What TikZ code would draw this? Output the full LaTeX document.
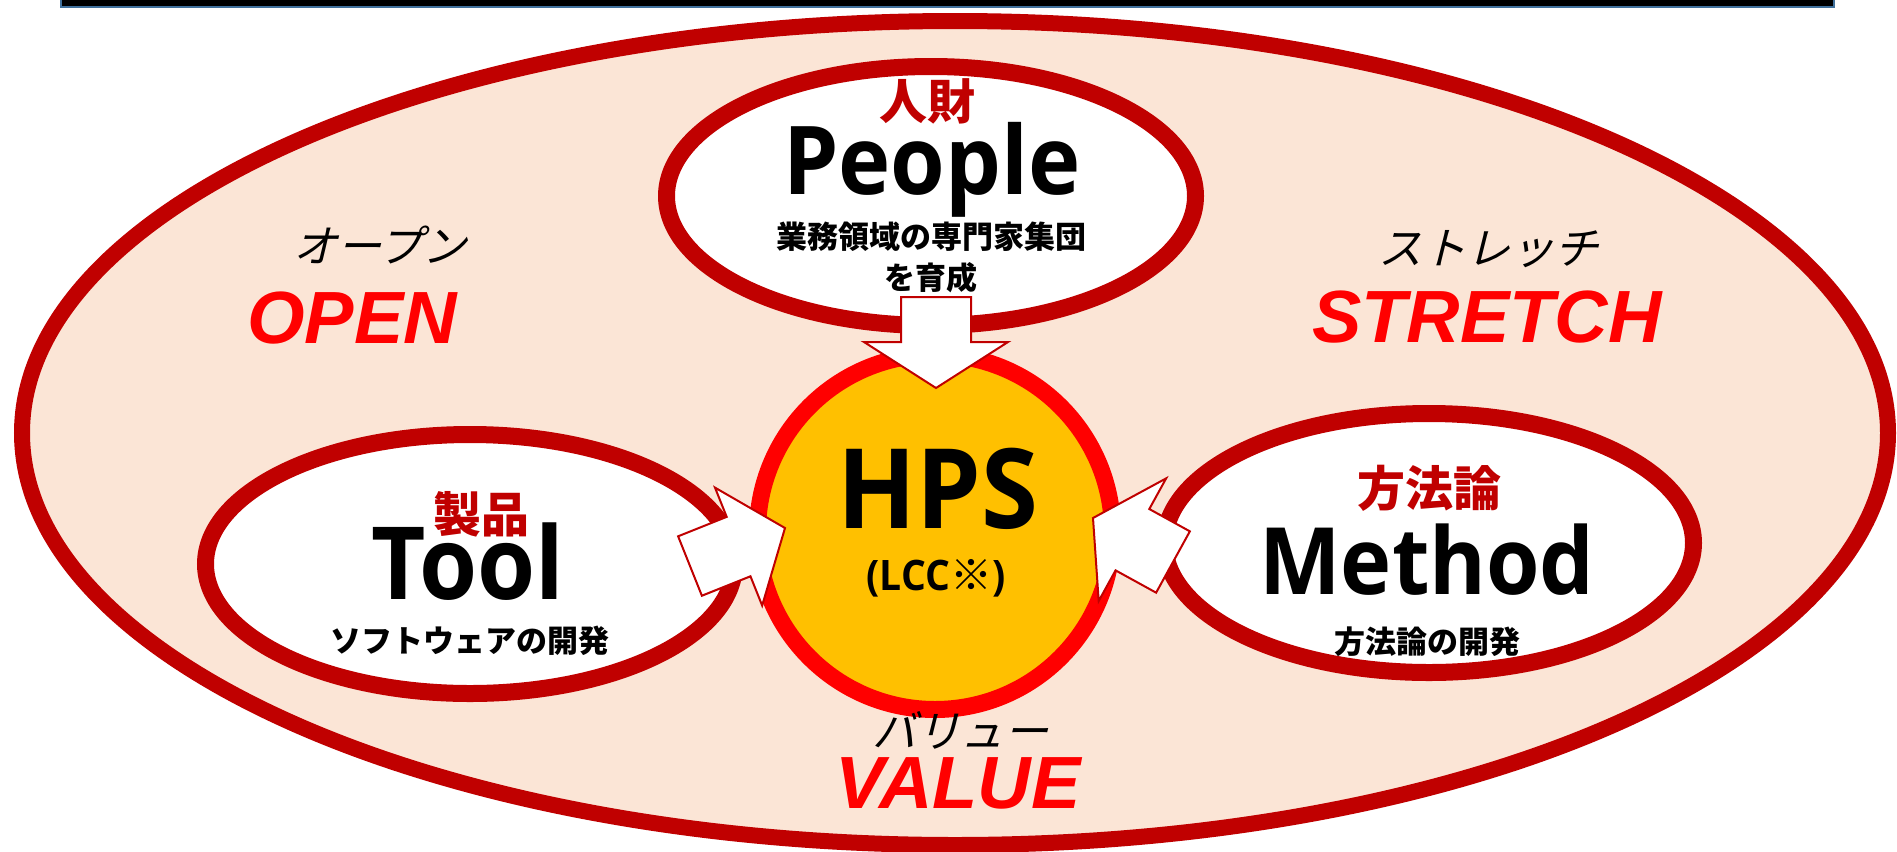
\documentclass[tikz,border=0pt]{standalone}
\usepackage{fontspec}
\usetikzlibrary{shapes.geometric,calc}
\setmainfont{Open Sans}
\newfontfamily\latb[FakeStretch=0.93]{Open Sans}
\newfontfamily\cjk{Noto Sans CJK JP}
\newfontfamily\cjkit[FakeSlant=0.25]{Noto Sans CJK JP}
\newfontfamily\arialf{Liberation Sans}
\definecolor{dred}{HTML}{C00000}
\definecolor{peach}{HTML}{FBE5D6}
\definecolor{gold}{HTML}{FFC000}
\definecolor{barblue}{HTML}{41719C}
\newcommand\blockarr[5]{%
  \coordinate (bj) at ($(#2)!#5!(#1)$);
  \draw[blockarrow] ($(#1)!#3!90:(#2)$) -- ($(bj)!#3!90:(#2)$) -- ($(bj)!#4!90:(#2)$)
    -- (#2) -- ($(bj)!#4!-90:(#2)$) -- ($(bj)!#3!-90:(#2)$) -- ($(#1)!#3!-90:(#2)$) -- cycle;
}
\begin{document}
\begin{tikzpicture}[x=0.5pt,y=-0.5pt,
  outerell/.style={ellipse, draw=dred, fill=peach, line width=8pt, inner sep=0pt},
  areaell/.style={ellipse, draw=dred, fill=white, line width=8.5pt, inner sep=0pt,
    minimum width=264.5pt, minimum height=129.5pt},
  core/.style={circle, draw=red, fill=gold, line width=8.5pt, inner sep=0pt, minimum size=177.5pt},
  blockarrow/.style={draw=dred, fill=white, line width=1pt, line join=miter},
  jphead/.style={text=dred, font=\cjk\bfseries\fontsize{24pt}{28pt}\selectfont, inner sep=0pt},
  jpsub/.style={text=black, font=\cjk\bfseries\fontsize{15.5pt}{18pt}\selectfont, inner sep=0pt},
  jplabel/.style={text=black, font=\cjkit\fontsize{22pt}{26pt}\selectfont, inner sep=0pt},
  enlabel/.style={text=red, font=\arialf\bfseries\itshape\fontsize{37pt}{42pt}\selectfont, inner sep=0pt},
  bigword/.style={text=black, font=\latb\bfseries\fontsize{#1}{#1}\selectfont, inner sep=0pt, anchor=base}]
\useasboundingbox (0,0) rectangle (1897,852);
\fill[white] (0,0) rectangle (1897,852);
% top bar
\draw[barblue, line width=1pt, fill=black] (61,-10) rectangle (1834,7);
% outer ellipse
\node[outerell, minimum width=933pt, minimum height=412pt] (outer) at (955,433) {};
% area ellipses
\node[areaell] (people) at (931,196) {};
\node[areaell] (tool) at (470,564) {};
\node[areaell] (method) at (1429,543) {};
% core
\node[core] (hps) at (935,532) {};
% texts
\node[jphead] (peopleJ) at (927,101) {人財};
\node[bigword=47.5pt] (peopleE) at (932,194) {People};
\node[jpsub] (peopleD1) at (931,237) {業務領域の専門家集団};
\node[jpsub] (peopleD2) at (931,278) {を育成};
\node[jphead] (toolJ) at (481,514) {製品};
\node[bigword=50.5pt] (toolE) at (468,599) {Tool};
\node[jpsub] (toolD) at (470,641) {ソフトウェアの開発};
\node[jphead] (methodJ) at (1429,488) {方法論};
\node[bigword=46.5pt] (methodE) at (1427,594) {Method};
\node[jpsub] (methodD) at (1427,642) {方法論の開発};
\node[bigword=55.5pt] (hpsE) at (938,528) {HPS};
\node[inner sep=0pt, font=\latb\bfseries\fontsize{21pt}{24pt}\selectfont] (hpsD) at (936,578) {(LCC{\cjk\bfseries ※})};
\node[jplabel] (openJ) at (380,245) {オープン};
\node[enlabel] (openE) at (352,318) {OPEN};
\node[jplabel] (stretchJ) at (1488,249) {ストレッチ};
\node[enlabel] (stretchE) at (1487,317) {STRETCH};
\node[jplabel] (valueJ) at (960,730) {バリュー};
\node[enlabel] (valueE) at (958,783) {VALUE};
% block arrows
\coordinate (pTail) at (936,297);
\coordinate (pTip) at (936,388);
\coordinate (tTail) at (690,566);
\coordinate (tTip) at (785,528);
\coordinate (mTail) at (1173,562);
\coordinate (mTip) at (1093,518);
\blockarr{pTail}{pTip}{17.5pt}{36pt}{23pt}
\blockarr{tTail}{tTip}{16pt}{31.75pt}{25pt}
\blockarr{mTail}{mTip}{17.5pt}{35pt}{22.5pt}
\end{tikzpicture}
\end{document}
